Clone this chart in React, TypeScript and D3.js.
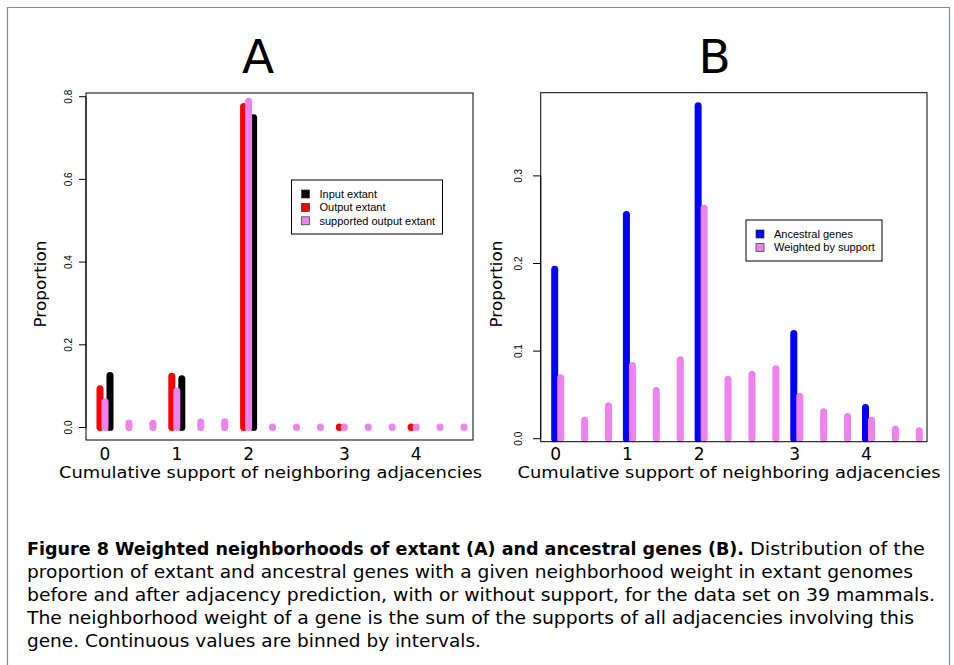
import * as React from "react"
import * as d3 from "d3"

// bins of the cumulative support (continuous values binned by intervals)
const binIds = [0, 1, 2, 3, 4, 5, 6, 7, 8, 9, 10, 11, 12, 13, 14, 15]
const tickBins = [0, 3, 6, 10, 13]
const tickLabels = ["0", "1", "2", "3", "4"]

// panel A : extant genes
const inputExtantBins = [0, 3, 6]
const inputExtant = [0.126, 0.118, 0.749]
const outputExtantBins = [0, 3, 6, 10, 13]
const outputExtant = [0.094, 0.124, 0.776, 0.001, 0.001]
const supportedOutput = [
  0.062, 0.011, 0.01, 0.088, 0.013, 0.014, 0.789, 0.001, 0.001, 0.001, 0.001, 0.001, 0.001, 0.001,
  0.001, 0.001,
]
const yTicksA = [0, 0.2, 0.4, 0.6, 0.8]

// panel B : ancestral genes
const ancestralBins = [0, 3, 6, 10, 13]
const ancestral = [0.1935, 0.256, 0.38, 0.12, 0.0356]
const weightedBySupport = [
  0.0695, 0.0211, 0.0375, 0.0835, 0.055, 0.09, 0.263, 0.068, 0.0736, 0.0798, 0.0485, 0.0307,
  0.0253, 0.0211, 0.0108, 0.009,
]
const yTicksB = [0, 0.1, 0.2, 0.3]

const captionBold = "Figure 8 Weighted neighborhoods of extant (A) and ancestral genes (B)."
const captionLines = [
  "Distribution of the",
  "proportion of extant and ancestral genes with a given neighborhood weight in extant genomes",
  "before and after adjacency prediction, with or without support, for the data set on 39 mammals.",
  "The neighborhood weight of a gene is the sum of the supports of all adjacencies involving this",
  "gene. Continuous values are binned by intervals.",
]

const VIOLET = "#ee82ee"
const SANS = "'DejaVu Sans', sans-serif"
const HELV = "'Liberation Sans', Arial, sans-serif"

type Series = { bins: number[]; values: number[]; color: string; offset: number }
type LegendItem = { label: string; color: string }

interface PanelProps {
  title: string
  titleX: number
  box: { x0: number; x1: number; y0: number; y1: number }
  binX: [number, number]
  yDomain: [number, number]
  yRange: [number, number]
  yTicks: number[]
  tickLabelX: number
  tickLen: number
  ylabX: number
  xlabX: number
  labelShift: number
  series: Series[]
  legend: { x: number; y: number; w: number; h: number; items: LegendItem[] }
}

function Panel(p: PanelProps) {
  const x = d3.scaleLinear().domain([0, 15]).range(p.binX)
  const y = d3.scaleLinear().domain(p.yDomain).range(p.yRange)
  const { box } = p
  return (
    <g>
      <text x={p.titleX} y={73} textAnchor="middle" fontFamily={SANS} fontSize={47}>
        {p.title}
      </text>
      {/* bars, drawn like R type="h" lines */}
      {p.series.map((s, i) => (
        <g key={i}>
          {s.values.map((v, j) => (
            <line
              key={j}
              x1={x(s.bins[j]) + s.offset}
              x2={x(s.bins[j]) + s.offset}
              y1={y(0)}
              y2={y(v)}
              stroke={s.color}
              strokeWidth={7}
              strokeLinecap="round"
            />
          ))}
        </g>
      ))}
      <rect x={box.x0} y={box.y0} width={box.x1 - box.x0} height={box.y1 - box.y0} fill="none" stroke="#000" strokeWidth={1} />
      {/* y axis */}
      <line x1={box.x0} x2={box.x0} y1={y(p.yTicks[0])} y2={y(p.yTicks[p.yTicks.length - 1])} stroke="#000" />
      {p.yTicks.map((t) => (
        <g key={t}>
          <line x1={box.x0 - p.tickLen} x2={box.x0} y1={y(t)} y2={y(t)} stroke="#000" />
          <text
            transform={`translate(${p.tickLabelX},${y(t)}) rotate(-90)`}
            textAnchor="middle"
            dominantBaseline="central"
            fontFamily={HELV}
            fontSize={10}
          >
            {d3.format(".1f")(t)}
          </text>
        </g>
      ))}
      <text
        transform={`translate(${p.ylabX},284) rotate(-90)`}
        textAnchor="middle"
        dominantBaseline="central"
        fontFamily={SANS}
        fontSize={16}
        textLength={87}
        lengthAdjust="spacingAndGlyphs"
      >
        Proportion
      </text>
      {/* x axis labels */}
      {tickBins.map((b, i) => (
        <text key={b} x={x(b) + p.labelShift} y={460} textAnchor="middle" fontFamily={SANS} fontSize={17}>
          {tickLabels[i]}
        </text>
      ))}
      <text
        x={p.xlabX}
        y={478}
        textAnchor="middle"
        fontFamily={SANS}
        fontSize={16}
        textLength={423}
        lengthAdjust="spacingAndGlyphs"
      >
        Cumulative support of neighboring adjacencies
      </text>
      {/* legend */}
      <rect x={p.legend.x} y={p.legend.y} width={p.legend.w} height={p.legend.h} fill="#fff" stroke="#000" />
      {p.legend.items.map((it, i) => (
        <g key={it.label}>
          <rect
            x={p.legend.x + 10}
            y={p.legend.y + 10 + i * 13.4}
            width={8}
            height={8}
            fill={it.color}
            stroke="#333"
            strokeWidth={0.7}
          />
          <text x={p.legend.x + 28} y={p.legend.y + 14 + i * 13.4} dominantBaseline="central" fontFamily={HELV} fontSize={11}>
            {it.label}
          </text>
        </g>
      ))}
    </g>
  )
}

export default function App() {
  return (
    <svg
      width={954}
      height={665}
      viewBox="0 0 954 665"
      style={{ position: "absolute", left: 0, top: 0, background: "#fff" }}
    >
      <rect x={0} y={0} width={954} height={665} fill="#fff" />
      <path d="M7.5,700 V7.5 H949.5 V700" fill="none" stroke="#7a8cab" strokeWidth={1.2} />
      <Panel
        title="A"
        titleX={258}
        box={{ x0: 86, x1: 473, y0: 93, y1: 440 }}
        binX={[105, 464]}
        yDomain={[0, 0.8]}
        yRange={[427.5, 96.7]}
        yTicks={yTicksA}
        tickLabelX={68}
        tickLen={7}
        ylabX={40}
        xlabX={270.5}
        labelShift={0}
        series={[
          { bins: inputExtantBins, values: inputExtant, color: "#000", offset: 5 },
          { bins: outputExtantBins, values: outputExtant, color: "#ff0000", offset: -5 },
          { bins: binIds, values: supportedOutput, color: VIOLET, offset: 0 },
        ]}
        legend={{
          x: 291.5,
          y: 180,
          w: 151,
          h: 54,
          items: [
            { label: "Input extant", color: "#000" },
            { label: "Output extant", color: "#ff0000" },
            { label: "supported output extant", color: VIOLET },
          ],
        }}
      />
      <Panel
        title="B"
        titleX={714.5}
        box={{ x0: 540.7, x1: 927, y0: 92.7, y1: 441.7 }}
        binX={[560.7, 919.3]}
        yDomain={[0, 0.3]}
        yRange={[438.7, 175.9]}
        yTicks={yTicksB}
        tickLabelX={518.5}
        tickLen={7.7}
        ylabX={496.7}
        xlabX={729}
        labelShift={-5}
        series={[
          { bins: ancestralBins, values: ancestral, color: "#0000ff", offset: -6 },
          { bins: binIds, values: weightedBySupport, color: VIOLET, offset: 0 },
        ]}
        legend={{
          x: 746,
          y: 220,
          w: 136,
          h: 41,
          items: [
            { label: "Ancestral genes", color: "#0000ff" },
            { label: "Weighted by support", color: VIOLET },
          ],
        }}
      />
      {/* caption */}
      <g fontFamily={SANS} fontSize={18} fill="#000">
        <text x={27} y={555} fontWeight="bold" textLength={717} lengthAdjust="spacingAndGlyphs">
          {captionBold}
        </text>
        <text x={750} y={555} textLength={175} lengthAdjust="spacingAndGlyphs">
          {captionLines[0]}
        </text>
        <text x={27} y={578} textLength={886} lengthAdjust="spacingAndGlyphs">
          {captionLines[1]}
        </text>
        <text x={27} y={601} textLength={908} lengthAdjust="spacingAndGlyphs">
          {captionLines[2]}
        </text>
        <text x={27} y={624} textLength={887} lengthAdjust="spacingAndGlyphs">
          {captionLines[3]}
        </text>
        <text x={27} y={647} textLength={454} lengthAdjust="spacingAndGlyphs">
          {captionLines[4]}
        </text>
      </g>
    </svg>
  )
}
